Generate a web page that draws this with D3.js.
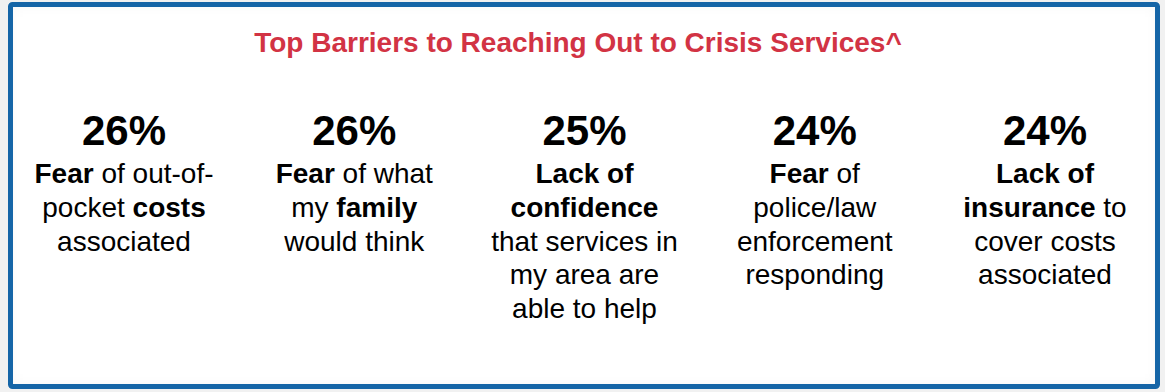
<!DOCTYPE html>
<html>
<head>
<meta charset="utf-8">
<script src="https://cdn.jsdelivr.net/npm/d3@7"></script>
<style>
  html, body { margin: 0; padding: 0; background: #f1f1f1; }
  svg { display: block; }
</style>
</head>
<body>
<div id="chart"></div>
<script>
// Data
const title = "Top Barriers to Reaching Out to Crisis Services^";
const barriers = ["Out-of-pocket costs", "Family", "Confidence in services", "Police/law enforcement", "Insurance"];
const shares = [26, 26, 25, 24, 24];
// ** marks bold runs
const labelLines = [
    ["**Fear** of out-of-", "pocket **costs**", "associated"],
    ["**Fear** of what", "my **family**", "would think"],
    ["**Lack of**", "**confidence**", "that services in", "my area are", "able to help"],
    ["**Fear** of", "police/law", "enforcement", "responding"],
    ["**Lack of**", "**insurance** to", "cover costs", "associated"]
];

const WIDTH = 1165, HEIGHT = 392;
const FONT = "'Liberation Sans', Arial, sans-serif";

const svg = d3.select("#chart").append("svg")
    .attr("width", WIDTH)
    .attr("height", HEIGHT);

// inner shadow for the card
const defs = svg.append("defs");
const f = defs.append("filter").attr("id", "inset")
    .attr("x", "-5%").attr("y", "-5%").attr("width", "110%").attr("height", "110%");
f.append("feFlood").attr("flood-color", "#000").attr("flood-opacity", 0.09);
f.append("feComposite").attr("in2", "SourceAlpha").attr("operator", "out");
f.append("feGaussianBlur").attr("stdDeviation", 7).attr("result", "blur");
f.append("feComposite").attr("in2", "SourceAlpha").attr("operator", "in").attr("result", "shadow");
const fm = f.append("feMerge");
fm.append("feMergeNode").attr("in", "SourceGraphic");
fm.append("feMergeNode").attr("in", "shadow");

const card = { x: 10.5, y: 4.5, w: 1147, h: 382 };

svg.append("rect")
    .attr("x", card.x).attr("y", card.y)
    .attr("width", card.w).attr("height", card.h)
    .attr("fill", "#fff")
    .attr("filter", "url(#inset)");

svg.append("rect")
    .attr("x", card.x).attr("y", card.y)
    .attr("width", card.w).attr("height", card.h)
    .attr("rx", 2)
    .attr("fill", "none")
    .attr("stroke", "#1565a7")
    .attr("stroke-width", 5);

// Title
svg.append("text")
    .attr("x", 578)
    .attr("y", 52)
    .attr("text-anchor", "middle")
    .style("font-family", FONT)
    .style("font-weight", "bold")
    .style("font-size", "28px")
    .attr("fill", "#d23344")
    .text(title);

// column positions
const x = d3.scalePoint()
    .domain(barriers)
    .range([124, 1045]);

const cols = svg.selectAll("g.col")
    .data(barriers.map((b, i) => ({ b, share: shares[i], lines: labelLines[i] })))
    .enter().append("g")
    .attr("class", "col")
    .attr("transform", d => `translate(${x(d.b)}, 0)`);

cols.append("text")
    .attr("y", 145)
    .attr("text-anchor", "middle")
    .style("font-family", FONT)
    .style("font-weight", "bold")
    .style("font-size", "42px")
    .attr("fill", "#000")
    .text(d => d.share + "%");

const LINE_H = 33.8;
cols.each(function(d) {
    const g = d3.select(this);
    d.lines.forEach((line, li) => {
        const t = g.append("text")
            .attr("y", 183 + li * LINE_H)
            .attr("text-anchor", "middle")
            .style("font-family", FONT)
            .style("font-size", "28px")
            .attr("fill", "#000");
        line.split("**").forEach((part, pi) => {
            if (!part) return;
            t.append("tspan")
                .style("font-weight", pi % 2 === 1 ? "bold" : "normal")
                .text(part);
        });
    });
});
</script>
</body>
</html>
